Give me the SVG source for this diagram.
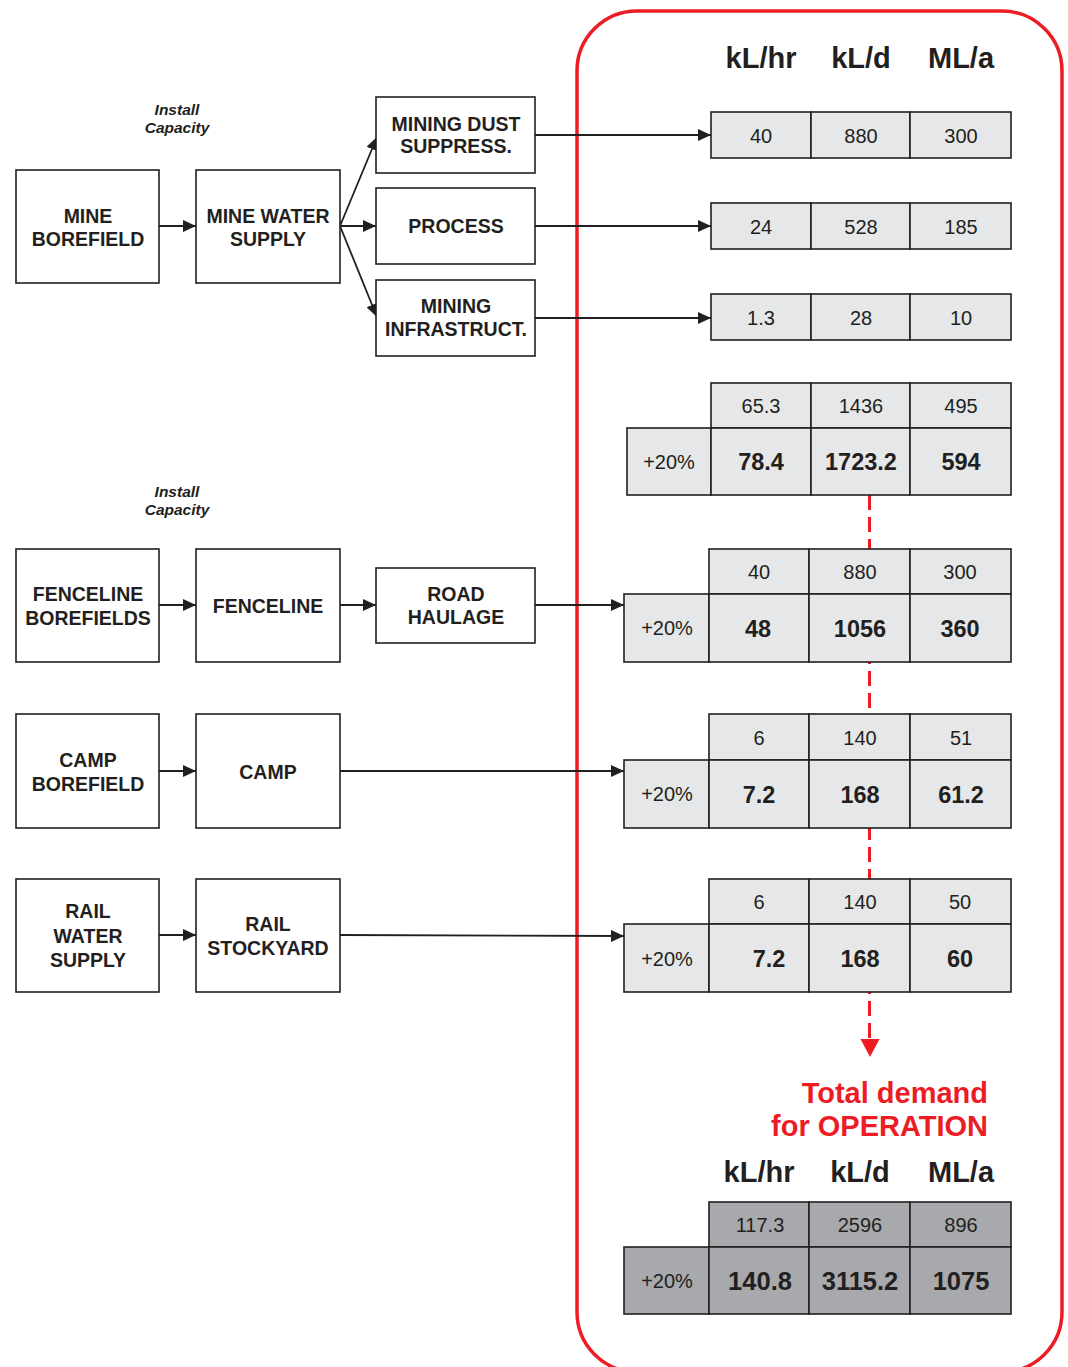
<svg xmlns="http://www.w3.org/2000/svg" width="1068" height="1367" viewBox="0 0 1068 1367">
<defs>
<style>
.box{fill:#ffffff;stroke:#231f20;stroke-width:1.6}
.lbl{font-family:"Liberation Sans",Arial,sans-serif;font-weight:bold;font-size:19.5px;fill:#231f20;text-anchor:middle}
.note{font-family:"Liberation Sans",Arial,sans-serif;font-weight:bold;font-style:italic;font-size:15.5px;fill:#231f20;text-anchor:middle}
.cell{fill:#e6e7e8;stroke:#231f20;stroke-width:1.6}
.dcell{fill:#a7a9ac;stroke:#231f20;stroke-width:1.6}
.num{font-family:"Liberation Sans",Arial,sans-serif;font-size:20px;fill:#231f20;text-anchor:middle}
.bnum{font-family:"Liberation Sans",Arial,sans-serif;font-weight:bold;font-size:23.5px;fill:#231f20;text-anchor:middle}
.bnum2{font-family:"Liberation Sans",Arial,sans-serif;font-weight:bold;font-size:25.5px;fill:#231f20;text-anchor:middle}
.hdr{font-family:"Liberation Sans",Arial,sans-serif;font-weight:bold;font-size:29px;fill:#231f20;text-anchor:middle}
.red{font-family:"Liberation Sans",Arial,sans-serif;font-weight:bold;font-size:29px;fill:#ed1c24;text-anchor:end}
.con{fill:none;stroke:#231f20;stroke-width:1.8;marker-end:url(#ah)}
</style>
<marker id="ah" viewBox="0 0 13 12" refX="13" refY="6" markerWidth="13" markerHeight="12" markerUnits="userSpaceOnUse" orient="auto">
<path d="M0,0 L13,6 L0,12 z" fill="#231f20"/>
</marker>
</defs>

<rect id="frame" x="577" y="11" width="485" height="1361" rx="60" ry="60" fill="none" stroke="#ed1c24" stroke-width="3.5"/>

<g id="connectors">
<line class="con" x1="159" y1="226" x2="196" y2="226"/>
<line class="con" x1="340" y1="226" x2="377" y2="137"/>
<line class="con" x1="340" y1="226" x2="376" y2="226"/>
<line class="con" x1="340" y1="226" x2="377" y2="317"/>
<line class="con" x1="535" y1="135" x2="711" y2="135"/>
<line class="con" x1="535" y1="226" x2="711" y2="226"/>
<line class="con" x1="535" y1="318" x2="711" y2="318"/>
<line class="con" x1="159" y1="605" x2="196" y2="605"/>
<line class="con" x1="340" y1="605" x2="376" y2="605"/>
<line class="con" x1="535" y1="605" x2="624" y2="605"/>
<line class="con" x1="159" y1="771" x2="196" y2="771"/>
<line class="con" x1="340" y1="771" x2="624" y2="771"/>
<line class="con" x1="159" y1="935" x2="196" y2="935"/>
<line class="con" x1="340" y1="935" x2="624" y2="936"/>
<line x1="869.5" y1="495" x2="869.5" y2="1041" stroke="#ed1c24" stroke-width="3" stroke-dasharray="15 7"/>
<polygon points="860.5,1039 879.5,1039 870,1057" fill="#ed1c24"/>
</g>

<text class="note" x="177" y="115">Install</text>
<text class="note" x="177" y="133">Capacity</text>
<text class="note" x="177" y="497">Install</text>
<text class="note" x="177" y="515">Capacity</text>

<g id="mine-borefield"><rect class="box" x="16" y="170" width="143" height="113"/>
<text class="lbl" x="88" y="222.5">MINE</text><text class="lbl" x="88" y="245.5">BOREFIELD</text></g>
<g id="mine-water-supply"><rect class="box" x="196" y="170" width="144" height="113"/>
<text class="lbl" x="268" y="222.5">MINE WATER</text><text class="lbl" x="268" y="245.5">SUPPLY</text></g>
<g id="dust"><rect class="box" x="376" y="97" width="159" height="76"/>
<text class="lbl" x="456" y="131">MINING DUST</text><text class="lbl" x="456" y="153">SUPPRESS.</text></g>
<g id="process"><rect class="box" x="376" y="188" width="159" height="76"/>
<text class="lbl" x="456" y="233">PROCESS</text></g>
<g id="infra"><rect class="box" x="376" y="280" width="159" height="76"/>
<text class="lbl" x="456" y="313">MINING</text><text class="lbl" x="456" y="336">INFRASTRUCT.</text></g>

<g id="fenceline-borefields"><rect class="box" x="16" y="549" width="143" height="113"/>
<text class="lbl" x="88" y="601">FENCELINE</text><text class="lbl" x="88" y="625">BOREFIELDS</text></g>
<g id="fenceline"><rect class="box" x="196" y="549" width="144" height="113"/>
<text class="lbl" x="268" y="613">FENCELINE</text></g>
<g id="road-haulage"><rect class="box" x="376" y="568" width="159" height="75"/>
<text class="lbl" x="456" y="601">ROAD</text><text class="lbl" x="456" y="624">HAULAGE</text></g>

<g id="camp-borefield"><rect class="box" x="16" y="714" width="143" height="114"/>
<text class="lbl" x="88" y="767">CAMP</text><text class="lbl" x="88" y="791">BOREFIELD</text></g>
<g id="camp"><rect class="box" x="196" y="714" width="144" height="114"/>
<text class="lbl" x="268" y="779">CAMP</text></g>

<g id="rail-water-supply"><rect class="box" x="16" y="879" width="143" height="113"/>
<text class="lbl" x="88" y="918">RAIL</text><text class="lbl" x="88" y="943">WATER</text><text class="lbl" x="88" y="967">SUPPLY</text></g>
<g id="rail-stockyard"><rect class="box" x="196" y="879" width="144" height="113"/>
<text class="lbl" x="268" y="931">RAIL</text><text class="lbl" x="268" y="955">STOCKYARD</text></g>

<text class="hdr" x="761" y="68">kL/hr</text>
<text class="hdr" x="861" y="68">kL/d</text>
<text class="hdr" x="961" y="68">ML/a</text>

<g id="table-dust">
<rect class="cell" x="711" y="112" width="100" height="46"/><rect class="cell" x="811" y="112" width="99" height="46"/><rect class="cell" x="910" y="112" width="101" height="46"/>
<text class="num" x="761" y="142.5">40</text><text class="num" x="861" y="142.5">880</text><text class="num" x="961" y="142.5">300</text>
</g>
<g id="table-process">
<rect class="cell" x="711" y="203" width="100" height="46"/><rect class="cell" x="811" y="203" width="99" height="46"/><rect class="cell" x="910" y="203" width="101" height="46"/>
<text class="num" x="761" y="233.5">24</text><text class="num" x="861" y="233.5">528</text><text class="num" x="961" y="233.5">185</text>
</g>
<g id="table-infra">
<rect class="cell" x="711" y="294" width="100" height="46"/><rect class="cell" x="811" y="294" width="99" height="46"/><rect class="cell" x="910" y="294" width="101" height="46"/>
<text class="num" x="761" y="324.5">1.3</text><text class="num" x="861" y="324.5">28</text><text class="num" x="961" y="324.5">10</text>
</g>

<g id="table-mine-total">
<rect class="cell" x="711" y="383" width="100" height="45"/><rect class="cell" x="811" y="383" width="99" height="45"/><rect class="cell" x="910" y="383" width="101" height="45"/>
<rect class="cell" x="627" y="428" width="84" height="67"/><rect class="cell" x="711" y="428" width="100" height="67"/><rect class="cell" x="811" y="428" width="99" height="67"/><rect class="cell" x="910" y="428" width="101" height="67"/>
<text class="num" x="761" y="413">65.3</text><text class="num" x="861" y="413">1436</text><text class="num" x="961" y="413">495</text>
<text class="num" x="669" y="469">+20%</text>
<text class="bnum" x="761" y="470">78.4</text><text class="bnum" x="861" y="470">1723.2</text><text class="bnum" x="961" y="470">594</text>
</g>

<g id="table-fenceline">
<rect class="cell" x="709" y="549" width="100" height="45"/><rect class="cell" x="809" y="549" width="101" height="45"/><rect class="cell" x="910" y="549" width="101" height="45"/>
<rect class="cell" x="624" y="594" width="85" height="68"/><rect class="cell" x="709" y="594" width="100" height="68"/><rect class="cell" x="809" y="594" width="101" height="68"/><rect class="cell" x="910" y="594" width="101" height="68"/>
<text class="num" x="759" y="579">40</text><text class="num" x="860" y="579">880</text><text class="num" x="960" y="579">300</text>
<text class="num" x="667" y="635">+20%</text>
<text class="bnum" x="758" y="636.5">48</text><text class="bnum" x="860" y="636.5">1056</text><text class="bnum" x="960" y="636.5">360</text>
</g>

<g id="table-camp">
<rect class="cell" x="709" y="714" width="100" height="46"/><rect class="cell" x="809" y="714" width="101" height="46"/><rect class="cell" x="910" y="714" width="101" height="46"/>
<rect class="cell" x="624" y="760" width="85" height="68"/><rect class="cell" x="709" y="760" width="100" height="68"/><rect class="cell" x="809" y="760" width="101" height="68"/><rect class="cell" x="910" y="760" width="101" height="68"/>
<text class="num" x="759" y="744.5">6</text><text class="num" x="860" y="744.5">140</text><text class="num" x="961" y="744.5">51</text>
<text class="num" x="667" y="801">+20%</text>
<text class="bnum" x="759" y="802.5">7.2</text><text class="bnum" x="860" y="802.5">168</text><text class="bnum" x="961" y="802.5">61.2</text>
</g>

<g id="table-rail">
<rect class="cell" x="709" y="879" width="100" height="45"/><rect class="cell" x="809" y="879" width="101" height="45"/><rect class="cell" x="910" y="879" width="101" height="45"/>
<rect class="cell" x="624" y="924" width="85" height="68"/><rect class="cell" x="709" y="924" width="100" height="68"/><rect class="cell" x="809" y="924" width="101" height="68"/><rect class="cell" x="910" y="924" width="101" height="68"/>
<text class="num" x="759" y="909">6</text><text class="num" x="860" y="909">140</text><text class="num" x="960" y="909">50</text>
<text class="num" x="667" y="966">+20%</text>
<text class="bnum" x="769" y="967">7.2</text><text class="bnum" x="860" y="967">168</text><text class="bnum" x="960" y="967">60</text>
</g>

<text class="red" x="988" y="1103">Total demand</text>
<text class="red" x="988" y="1136">for OPERATION</text>

<text class="hdr" x="759" y="1182">kL/hr</text>
<text class="hdr" x="860" y="1182">kL/d</text>
<text class="hdr" x="961" y="1182">ML/a</text>

<g id="table-total">
<rect class="dcell" x="709" y="1202" width="100" height="45"/><rect class="dcell" x="809" y="1202" width="101" height="45"/><rect class="dcell" x="910" y="1202" width="101" height="45"/>
<rect class="dcell" x="624" y="1247" width="85" height="67"/><rect class="dcell" x="709" y="1247" width="100" height="67"/><rect class="dcell" x="809" y="1247" width="101" height="67"/><rect class="dcell" x="910" y="1247" width="101" height="67"/>
<text class="num" x="760" y="1232">117.3</text><text class="num" x="860" y="1232">2596</text><text class="num" x="961" y="1232">896</text>
<text class="num" x="667" y="1288">+20%</text>
<text class="bnum2" x="760" y="1290">140.8</text><text class="bnum2" x="860" y="1290">3115.2</text><text class="bnum2" x="961" y="1290">1075</text>
</g>
</svg>
